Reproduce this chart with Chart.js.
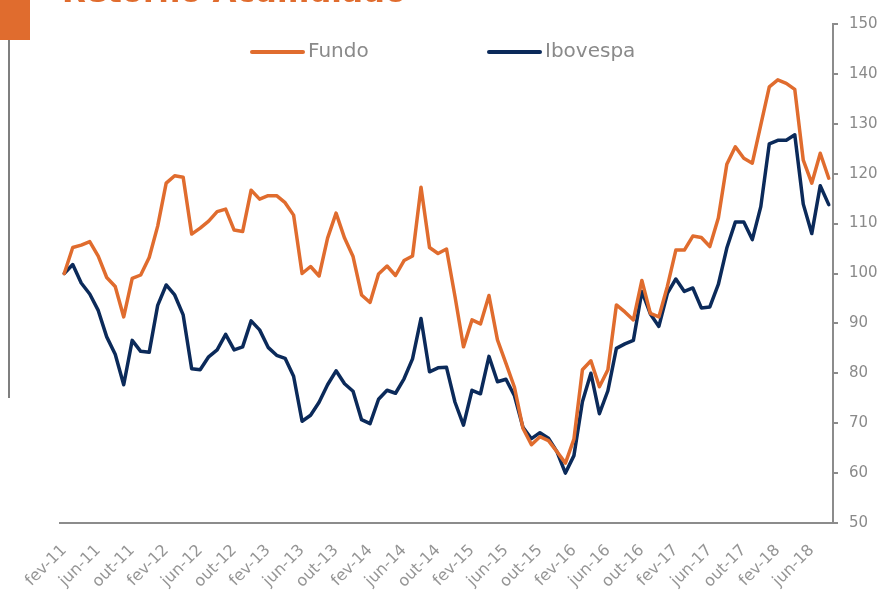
<!DOCTYPE html>
<html>
<head>
<meta charset="utf-8">
<script src="https://cdn.jsdelivr.net/npm/chart.js@4.4.1/dist/chart.umd.min.js"></script>
<style>
    html, body { margin: 0; padding: 0; background: #fff; }
    #wrap { position: relative; width: 882px; height: 595px; }
</style>
</head>
<body>
<div id="wrap"><canvas id="chart" width="882" height="595"></canvas></div>
<script>
// meses (fev-11 .. ago-18)
var months = [
    'fev-11', 'mar-11', 'abr-11', 'mai-11', 'jun-11', 'jul-11', 'ago-11', 'set-11', 'out-11', 'nov-11', 'dez-11',
    'jan-12', 'fev-12', 'mar-12', 'abr-12', 'mai-12', 'jun-12', 'jul-12', 'ago-12', 'set-12', 'out-12', 'nov-12', 'dez-12',
    'jan-13', 'fev-13', 'mar-13', 'abr-13', 'mai-13', 'jun-13', 'jul-13', 'ago-13', 'set-13', 'out-13', 'nov-13', 'dez-13',
    'jan-14', 'fev-14', 'mar-14', 'abr-14', 'mai-14', 'jun-14', 'jul-14', 'ago-14', 'set-14', 'out-14', 'nov-14', 'dez-14',
    'jan-15', 'fev-15', 'mar-15', 'abr-15', 'mai-15', 'jun-15', 'jul-15', 'ago-15', 'set-15', 'out-15', 'nov-15', 'dez-15',
    'jan-16', 'fev-16', 'mar-16', 'abr-16', 'mai-16', 'jun-16', 'jul-16', 'ago-16', 'set-16', 'out-16', 'nov-16', 'dez-16',
    'jan-17', 'fev-17', 'mar-17', 'abr-17', 'mai-17', 'jun-17', 'jul-17', 'ago-17', 'set-17', 'out-17', 'nov-17', 'dez-17',
    'jan-18', 'fev-18', 'mar-18', 'abr-18', 'mai-18', 'jun-18', 'jul-18', 'ago-18'
];

var fundo = [
    100.0, 105.2, 105.7, 106.4, 103.5, 99.2, 97.4, 91.3, 99.0, 99.7, 103.2,
    109.5, 118.1, 119.6, 119.3, 107.9, 109.1, 110.5, 112.4, 112.9, 108.7, 108.4, 116.7,
    114.9, 115.6, 115.6, 114.2, 111.7, 100.0, 101.4, 99.5, 107.1, 112.1, 107.1, 103.4,
    95.7, 94.2, 99.9, 101.5, 99.6, 102.6, 103.5, 117.3, 105.2, 104.0, 104.9, 95.4,
    85.3, 90.7, 89.9, 95.6, 86.7, 82.0, 77.2, 69.0, 65.7, 67.3, 66.5, 64.3,
    62.0, 66.8, 80.7, 82.5, 77.3, 80.7, 93.7, 92.3, 90.7, 98.6, 92.0, 91.3,
    97.4, 104.7, 104.7, 107.5, 107.2, 105.4, 111.1, 121.9, 125.4, 123.1, 122.1, 129.8,
    137.4, 138.8, 138.1, 136.9, 122.7, 118.1, 124.1, 119.1
];

var ibovespa = [
    100.0, 101.8, 98.1, 95.9, 92.6, 87.3, 83.8, 77.7, 86.6, 84.4, 84.2,
    93.6, 97.7, 95.7, 91.7, 80.9, 80.7, 83.3, 84.7, 87.8, 84.7, 85.3, 90.5,
    88.7, 85.2, 83.6, 83.0, 79.4, 70.4, 71.6, 74.2, 77.7, 80.5, 77.9, 76.4,
    70.7, 69.9, 74.8, 76.6, 76.0, 78.9, 82.9, 91.0, 80.3, 81.1, 81.2, 74.2,
    69.6, 76.6, 75.9, 83.4, 78.3, 78.8, 75.5, 69.2, 66.9, 68.1, 67.0, 64.3,
    60.0, 63.5, 74.3, 80.0, 71.9, 76.5, 85.0, 85.9, 86.6, 96.4, 91.9, 89.4,
    96.0, 98.9, 96.4, 97.1, 93.1, 93.3, 97.8, 105.1, 110.3, 110.3, 106.8, 113.4,
    126.0, 126.7, 126.7, 127.8, 113.9, 108.0, 117.6, 113.8
];

var seriesNames = ['Fundo', 'Ibovespa'];
var yTicks = [50, 60, 70, 80, 90, 100, 110, 120, 130, 140, 150];

(function () {
    'use strict';

    var ORANGE = '#E06C2E';
    var NAVY = '#0B2A5A';
    var GREY = '#8a8a8a';
    var AXIS = '#8c8c8c';
    var FONT = '"DejaVu Sans", Verdana, sans-serif';

    // title strip, orange box and the grey rule on the left
    var decor = {
        id: 'decor',
        beforeDraw: function (chart) {
            var ctx = chart.ctx;
            ctx.save();
            ctx.fillStyle = ORANGE;
            ctx.fillRect(0, 0, 30, 40);
            ctx.fillStyle = '#7f7f7f';
            ctx.fillRect(8, 40, 2, 358);
            ctx.font = 'bold 31px ' + FONT;
            ctx.textBaseline = 'alphabetic';
            ctx.textAlign = 'left';
            ctx.fillStyle = ORANGE;
            ctx.fillText('Retorno Acumulado', 62, 2);
            ctx.restore();
        }
    };

    // legend drawn inside the plot area, as in the original
    var legendPos = [250, 487];
    var lineLegend = {
        id: 'lineLegend',
        afterDraw: function (chart) {
            var ctx = chart.ctx;
            var ds = chart.data.datasets;
            ctx.save();
            ctx.font = '20px ' + FONT;
            ctx.textBaseline = 'middle';
            ctx.textAlign = 'left';
            for (var i = 0; i < ds.length; i++) {
                var x = legendPos[i];
                ctx.strokeStyle = ds[i].borderColor;
                ctx.lineWidth = 4;
                ctx.lineCap = 'round';
                ctx.beginPath();
                ctx.moveTo(x + 2, 52);
                ctx.lineTo(x + 53, 52);
                ctx.stroke();
                ctx.fillStyle = GREY;
                ctx.fillText(ds[i].label, x + 58, 52);
            }
            ctx.restore();
        }
    };

    var canvas = document.getElementById('chart');

    new Chart(canvas, {
        type: 'line',
        data: {
            labels: months,
            datasets: [{
                label: seriesNames[0],
                data: fundo,
                borderColor: ORANGE,
                backgroundColor: ORANGE,
                borderWidth: 3.5
            }, {
                label: seriesNames[1],
                data: ibovespa,
                borderColor: NAVY,
                backgroundColor: NAVY,
                borderWidth: 3.5
            }]
        },
        options: {
            responsive: false,
            animation: false,
            layout: {
                padding: { left: 60, top: 24, right: 0, bottom: 0 }
            },
            elements: {
                point: { radius: 0, hoverRadius: 0 },
                line: { tension: 0, borderJoinStyle: 'round', borderCapStyle: 'round' }
            },
            plugins: {
                legend: { display: false },
                tooltip: { enabled: false }
            },
            scales: {
                x: {
                    offset: true,
                    afterFit: function (scale) {
                        scale.height = 72;
                    },
                    grid: { display: false },
                    border: { display: true, color: AXIS, width: 2 },
                    ticks: {
                        autoSkip: false,
                        minRotation: 45,
                        maxRotation: 45,
                        padding: 10,
                        color: '#959595',
                        font: { family: FONT, size: 16 },
                        callback: function (v, i) {
                            return i % 4 === 0 ? months[i] : '';
                        }
                    }
                },
                y: {
                    position: 'right',
                    min: yTicks[0],
                    max: yTicks[yTicks.length - 1],
                    afterFit: function (scale) {
                        scale.width = 49;
                    },
                    afterBuildTicks: function (scale) {
                        scale.ticks = yTicks.map(function (v) { return { value: v }; });
                    },
                    grid: {
                        display: true,
                        drawOnChartArea: false,
                        drawTicks: true,
                        tickLength: 5,
                        color: AXIS,
                        lineWidth: 2
                    },
                    border: { display: true, color: AXIS, width: 2 },
                    ticks: {
                        padding: 11,
                        color: GREY,
                        font: { family: FONT, size: 15 }
                    }
                }
            }
        },
        plugins: [decor, lineLegend]
    });
})();
</script>
</body>
</html>
